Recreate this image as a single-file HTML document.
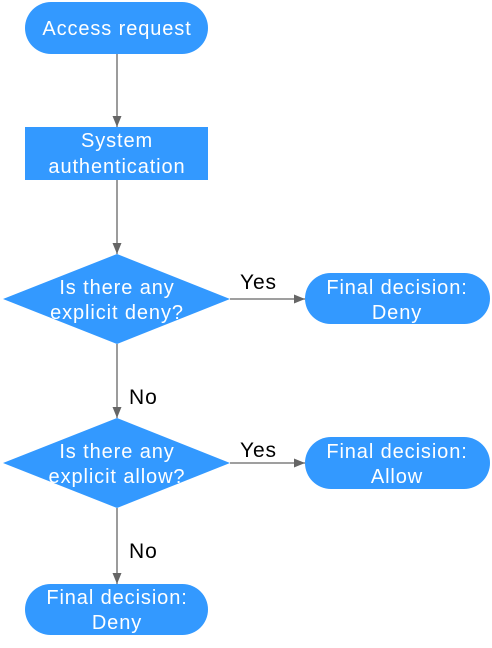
<!DOCTYPE html>
<html><head><style>html,body{margin:0;padding:0;background:#fff}svg{display:block}</style></head>
<body>
<svg width="492" height="648" viewBox="0 0 492 648" xmlns="http://www.w3.org/2000/svg" font-family="Liberation Sans, sans-serif" font-size="20" letter-spacing="0.9">
<defs><marker id="a" markerWidth="11" markerHeight="9" refX="11" refY="4.5" orient="auto" markerUnits="userSpaceOnUse"><path d="M0,0 L11,4.5 L0,9 z" fill="#666"/></marker></defs>
<g stroke="#666" stroke-width="1.3" fill="none">
<line x1="117" y1="54" x2="117" y2="127" marker-end="url(#a)"/>
<line x1="117" y1="180" x2="117" y2="254" marker-end="url(#a)"/>
<line x1="230" y1="299" x2="305" y2="299" marker-end="url(#a)"/>
<line x1="117" y1="344" x2="117" y2="418" marker-end="url(#a)"/>
<line x1="230" y1="463" x2="305" y2="463" marker-end="url(#a)"/>
<line x1="117" y1="508" x2="117" y2="584" marker-end="url(#a)"/>
</g>
<g fill="#3399ff">
<rect x="25" y="2" width="183" height="52" rx="26"/>
<rect x="25" y="127" width="183" height="53"/>
<polygon points="117,254 230,299 117,344 3,299"/>
<rect x="305" y="273" width="185" height="51" rx="25.5"/>
<polygon points="117,418 230,463 117,508 3,463"/>
<rect x="305" y="437" width="185" height="52" rx="26"/>
<rect x="25" y="584" width="183" height="51" rx="25.5"/>
</g>
<g fill="#fff" text-anchor="middle">
<text x="117" y="35">Access request</text>
<text x="117" y="147">System</text>
<text x="117" y="173">authentication</text>
<text x="117" y="294">Is there any</text>
<text x="117" y="319">explicit deny?</text>
<text x="397" y="294">Final decision:</text>
<text x="397" y="319">Deny</text>
<text x="117" y="458">Is there any</text>
<text x="117" y="483">explicit allow?</text>
<text x="397" y="458">Final decision:</text>
<text x="397" y="483">Allow</text>
<text x="117" y="604">Final decision:</text>
<text x="117" y="629">Deny</text>
</g>
<g fill="#000" font-size="21">
<text x="240" y="289">Yes</text>
<text x="240" y="457">Yes</text>
<text x="129" y="404">No</text>
<text x="129" y="558">No</text>
</g>
</svg>
</body></html>
